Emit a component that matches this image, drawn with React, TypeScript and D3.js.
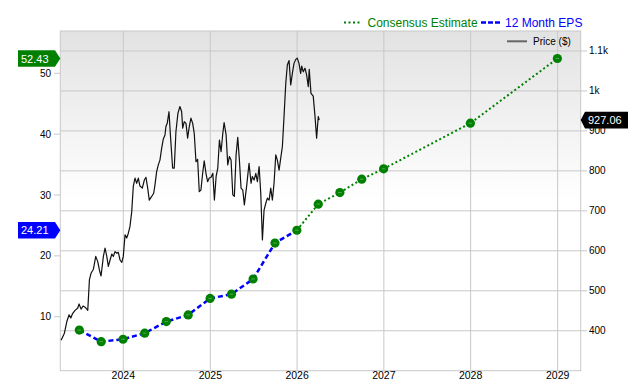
import React from "react";
import * as d3 from "d3";

const epsDates = ["2023-06-30","2023-09-30","2023-12-31","2024-03-31","2024-06-30","2024-09-30","2024-12-31","2025-03-31","2025-06-30","2025-09-30","2025-12-31"];
const epsValues = [7.8, 5.9, 6.3, 7.3, 9.2, 10.3, 13.0, 13.7, 16.2, 22.1, 24.21];
const estDates = ["2025-12-31","2026-03-31","2026-06-30","2026-09-30","2026-12-31","2027-12-31","2028-12-31"];
const estValues = [24.21, 28.5, 30.4, 32.6, 34.3, 41.8, 52.43];

const priceYears = [
  2023.283,2023.321,2023.349,2023.375,2023.395,2023.413,2023.444,2023.475,2023.49,2023.513,2023.536,2023.559,2023.579,2023.59,
  2023.609,2023.628,2023.655,2023.682,2023.705,2023.724,2023.743,2023.77,2023.789,2023.809,2023.827,2023.847,2023.867,2023.885,
  2023.904,2023.924,2023.942,2023.962,2023.982,2024.0,2024.02,2024.039,2024.058,2024.077,2024.097,2024.115,2024.135,2024.154,
  2024.173,2024.192,2024.219,2024.242,2024.261,2024.281,2024.299,2024.327,2024.35,2024.365,2024.384,2024.403,2024.422,2024.442,
  2024.46,2024.48,2024.491,2024.506,2024.526,2024.545,2024.568,2024.587,2024.606,2024.629,2024.652,2024.672,2024.684,2024.702,
  2024.722,2024.741,2024.76,2024.779,2024.799,2024.817,2024.837,2024.856,2024.875,2024.894,2024.914,2024.932,2024.952,2024.971,
  2024.99,2025.009,2025.029,2025.047,2025.067,2025.086,2025.105,2025.124,2025.144,2025.159,2025.182,2025.201,2025.22,2025.239,
  2025.259,2025.277,2025.297,2025.316,2025.335,2025.354,2025.374,2025.392,2025.42,2025.446,2025.469,2025.484,2025.504,2025.524,
  2025.542,2025.562,2025.581,2025.6,2025.619,2025.639,2025.657,2025.677,2025.696,2025.715,2025.734,2025.754,2025.772,2025.792,
  2025.811,2025.83,2025.849,2025.869,2025.887,2025.907,2025.926,2025.945,2025.964,2025.984,2026.002,2026.022,2026.041,2026.053,
  2026.071,2026.091,2026.11,2026.129,2026.14,2026.16,2026.186,2026.205,2026.225,2026.244,2026.255
];
const priceValues = [
  376,394,423,440,432,442,451,457,467,454,462,459,454,451,
  527,544,554,586,573,552,537,586,607,586,561,577,592,586,
  598,594,596,577,571,586,640,632,644,661,698,761,782,769,
  782,762,757,777,784,757,727,736,744,765,798,815,827,857,
  879,890,911,919,948,882,807,807,898,944,961,948,907,923,
  919,882,911,932,919,894,823,829,748,752,794,825,794,773,
  782,784,794,727,786,807,877,848,894,921,890,815,836,827,
  740,736,840,884,827,757,752,715,765,819,769,786,777,794,
  773,811,744,627,702,719,732,727,757,727,769,840,827,802,
  832,861,936,1019,1065,1076,1015,1044,1069,1079,1082,1069,1044,1062,
  1048,1057,1040,1011,1054,994,987,940,882,936,927.06
];

const leftTicks = [10, 20, 30, 40, 50];
const rightTicks = [400, 500, 600, 700, 800, 900, 1000, 1100];
const yearTicks = [2024, 2025, 2026, 2027, 2028, 2029];

const FONT = "'Liberation Sans', Arial, Helvetica, sans-serif";

function yearToDate(y: number): Date {
  const Y = Math.floor(y);
  return new Date(Date.UTC(Y, 0, 1) + (y - Y) * 365.25 * 86400000);
}

export default function App() {
  const W = 640, H = 380;
  const L = 60.3, R = 580.7, T = 31, B = 370.7;

  const x = d3.scaleTime()
    .domain([new Date(Date.UTC(2023, 3, 11)), new Date(Date.UTC(2029, 3, 8))])
    .range([L, R]);
  const yL = d3.scaleLinear().domain([1.13, 56.95]).range([B, T]);
  const yR = d3.scaleLinear().domain([300, 1150]).range([B, T]);

  const price = priceYears.map((yr, i) => ({ d: yearToDate(yr), v: priceValues[i] }));
  const eps = epsDates.map((s, i) => ({ d: new Date(s + "T00:00:00Z"), v: epsValues[i] }));
  const est = estDates.map((s, i) => ({ d: new Date(s + "T00:00:00Z"), v: estValues[i] }));

  const priceLine = d3.line<any>().x(p => x(p.d)).y(p => yR(p.v));
  const epsLine = d3.line<any>().x(p => x(p.d)).y(p => yL(p.v));

  const markers = [...eps, ...est.slice(1)];
  const gridCol = "#c8c8c8";

  const lastPrice = priceValues[priceValues.length - 1];
  const lastEst = estValues[estValues.length - 1];
  const lastEps = epsValues[epsValues.length - 1];

  const leftBadge = (v: number, color: string) => {
    const cy = yL(v);
    const h = 16.6;
    const path = `M18,${cy - h / 2} L55,${cy - h / 2} L${L},${cy} L55,${cy + h / 2} L18,${cy + h / 2} Z`;
    return (
      <g key={color}>
        <path d={path} fill={color} />
        <text x={21} y={cy + 4} fill="#fff" fontSize={11} fontFamily={FONT}>{v.toFixed(2)}</text>
      </g>
    );
  };

  const rightBadgeY = yR(lastPrice);
  const rh = 16.6;

  return (
    <svg width={W} height={H} style={{ position: "absolute", left: 0, top: 0, background: "#fff" }}>
      <defs>
        <linearGradient id="bg" x1="0" y1="0" x2="0" y2="1">
          <stop offset="0%" stopColor="#e2e2e2" />
          <stop offset="50%" stopColor="#ffffff" />
          <stop offset="100%" stopColor="#ffffff" />
        </linearGradient>
      </defs>
      <rect x={L} y={T} width={R - L} height={B - T} fill="url(#bg)" />
      {rightTicks.map(t => (
        <line key={"h" + t} x1={L} x2={R} y1={yR(t)} y2={yR(t)} stroke={gridCol} strokeWidth={1} />
      ))}
      {yearTicks.map(yr => {
        const xx = x(new Date(Date.UTC(yr, 0, 1)));
        return <line key={"v" + yr} x1={xx} x2={xx} y1={T} y2={B} stroke={gridCol} strokeWidth={1} />;
      })}
      <rect x={L} y={T} width={R - L} height={B - T} fill="none" stroke={gridCol} strokeWidth={1} />

      {leftTicks.map(t => (
        <g key={"lt" + t}>
          <line x1={54} x2={L} y1={yL(t)} y2={yL(t)} stroke={gridCol} />
          <text x={51} y={yL(t) + 3.5} textAnchor="end" fontSize={10} fontFamily={FONT} fill="#000">{t}</text>
        </g>
      ))}
      {rightTicks.map(t => (
        <g key={"rt" + t}>
          <line x1={R} x2={587} y1={yR(t)} y2={yR(t)} stroke={gridCol} />
          <text x={589} y={yR(t) + 3.5} fontSize={10} fontFamily={FONT} fill="#000">
            {t >= 1000 ? (t / 1000) + "k" : t}
          </text>
        </g>
      ))}
      {yearTicks.map(yr => (
        <text key={"yl" + yr} x={x(new Date(Date.UTC(yr, 0, 1)))} y={378.5} textAnchor="middle" fontSize={10.5} fontFamily={FONT} fill="#000">{yr}</text>
      ))}

      <path d={priceLine(price) || ""} fill="none" stroke="#111" strokeWidth={1.2} strokeLinejoin="round" />
      <path d={epsLine(eps) || ""} fill="none" stroke="#0000ff" strokeWidth={2.5} strokeDasharray="5,3" />
      <path d={epsLine(est) || ""} fill="none" stroke="#008000" strokeWidth={2} strokeDasharray="2,2.5" />
      {markers.map((m, i) => (
        <g key={"m" + i}>
          <circle cx={x(m.d)} cy={yL(m.v)} r={4.6} fill="#008000" />
          <line x1={x(m.d) - 1.8} x2={x(m.d) + 1.8} y1={yL(m.v)} y2={yL(m.v)} stroke="#fff" strokeWidth={0.7} opacity={0.45} />
        </g>
      ))}

      {leftBadge(lastEst, "#008000")}
      {leftBadge(lastEps, "#0000ff")}
      <path d={`M${R},${rightBadgeY} L585,${rightBadgeY - rh / 2} L628,${rightBadgeY - rh / 2} L628,${rightBadgeY + rh / 2} L585,${rightBadgeY + rh / 2} Z`} fill="#000" />
      <text x={588} y={rightBadgeY + 4} fill="#fff" fontSize={11} fontFamily={FONT}>{lastPrice.toFixed(2)}</text>

      <line x1={344} x2={362} y1={22.5} y2={22.5} stroke="#008000" strokeWidth={2} strokeDasharray="2,2.5" />
      <text x={367.5} y={27} fontSize={12} fontFamily={FONT} fill="#008000">Consensus Estimate</text>
      <line x1={481} x2={502} y1={22.5} y2={22.5} stroke="#0000ff" strokeWidth={2.5} strokeDasharray="5,2" />
      <text x={505} y={27} fontSize={12} fontFamily={FONT} fill="#0000ff">12 Month EPS</text>
      <line x1={507} x2={527} y1={41.3} y2={41.3} stroke="#666" strokeWidth={2} />
      <text x={533} y={45} fontSize={10} fontFamily={FONT} fill="#000">Price ($)</text>
    </svg>
  );
}
